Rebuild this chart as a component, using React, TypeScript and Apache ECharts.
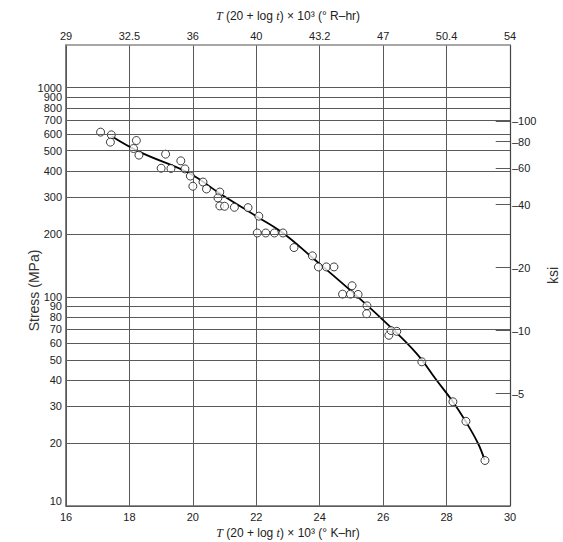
import React, { useEffect, useRef } from "react";
import * as echarts from "echarts";

// Larson–Miller parameter, T(20 + log t) × 10^3 in K·hr
const lmpK = [
  17.09, 17.43, 17.4, 18.22, 18.13, 18.3, 19.14, 19.0, 19.31, 19.62, 19.75,
  19.92, 20.0, 20.32, 20.43, 20.85, 20.79, 20.85, 21.0, 21.31, 21.74, 22.08,
  22.03, 22.3, 22.57, 22.84, 23.19, 23.77, 23.96, 24.21, 24.45, 25.02, 24.72,
  24.97, 25.21, 25.49, 25.48, 26.18, 26.25, 26.43, 27.22, 28.2, 28.61, 29.21,
];
// Rupture stress, MPa
const stressMPa = [
  613, 595, 549, 559, 512, 476, 481, 412, 411, 447, 409, 378, 338, 354, 328,
  317, 297, 272, 271, 268, 267, 243, 202, 202, 202, 202, 172, 157, 139, 139,
  139, 113, 103, 103, 102.7, 90.6, 83, 65.5, 69, 68.4, 48.9, 31.5, 25.4, 16.5,
];

// Master curve through the data
const fitX = [17.44, 18.32, 19.9, 20.85, 22.0, 22.84, 23.79, 24.95, 26.0, 27.05, 27.68, 28.2, 28.6, 28.99, 29.2];
const fitY = [586, 493, 389, 312, 243, 202, 153, 108, 77.4, 53.7, 40.0, 31.5, 25.4, 19.95, 16.6];

// Stress grid values (MPa) and the ksi scale on the right
const stressGrid = [10, 20, 30, 40, 50, 60, 70, 80, 90, 100, 200, 300, 400, 500, 600, 700, 800, 900, 1000];
const ksiTicks = [5, 10, 20, 40, 60, 80, 100];
const MPA_PER_KSI = 6.895;

// Rankine-hour equivalents of the Kelvin-hour ticks 16..30
const topLabels = ["29", "32.5", "36", "40", "43.2", "47", "50.4", "54"];

const FONT = "'Liberation Sans', Arial, sans-serif";
const TEXT = "#222";
const GRID = "#5a5a5a";

export default function App() {
  const ref = useRef<HTMLDivElement>(null);

  useEffect(() => {
    if (!ref.current) return;
    const chart = echarts.init(ref.current, undefined, { renderer: "svg" });

    const points = lmpK.map((x, i) => [x, stressMPa[i]]);
    const curve = fitX.map((x, i) => [x, fitY[i]]);

    const gridLines = stressGrid.map((v, i) => ({
      yAxis: v,
      label: {
        show: true,
        position: "start",
        distance: 4,
        offset: i === 0 ? [0, -5] : [0, 0],
        formatter: String(v),
        color: TEXT,
        fontSize: 11,
        fontFamily: FONT,
      },
    }));

    const ksiLines = ksiTicks.map((k) => [
      { coord: [29.55, k * MPA_PER_KSI] },
      {
        coord: [30, k * MPA_PER_KSI],
        label: {
          show: true,
          position: "end",
          distance: 2,
          formatter: "–" + k,
          color: TEXT,
          fontSize: 11,
          fontFamily: FONT,
        },
      },
    ]);

    const nameRich = {
      it: { fontStyle: "italic", fontFamily: "'Liberation Serif', 'Times New Roman', serif", fontSize: 12, color: TEXT },
    };

    chart.setOption({
      animation: false,
      backgroundColor: "#fff",
      textStyle: { fontFamily: FONT },
      grid: { left: 66, right: 53, top: 45, bottom: 36, containLabel: false, outerBoundsMode: "none" },
      xAxis: [
        {
          type: "value",
          position: "bottom",
          min: 16,
          max: 30,
          interval: 2,
          axisLine: { show: true, lineStyle: { color: "#6a6a6a", width: 1.5 } },
          axisTick: { show: false },
          axisLabel: { color: TEXT, fontSize: 11, fontFamily: FONT, margin: 5 },
          splitLine: { show: true, lineStyle: { color: GRID, width: 1 } },
          name: "{it|T} (20 + log {it|t}) × 10³ (° K–hr)",
          nameLocation: "middle",
          nameGap: 21,
          nameTextStyle: { color: TEXT, fontSize: 12, fontFamily: FONT, rich: nameRich },
        },
        {
          type: "value",
          position: "top",
          min: 16,
          max: 30,
          interval: 2,
          axisLine: { show: true, lineStyle: { color: "#8a8a8a", width: 1.5 } },
          axisTick: { show: false },
          axisLabel: {
            color: TEXT,
            fontSize: 11,
            fontFamily: FONT,
            margin: 4,
            formatter: (v: number) => topLabels[Math.round((v - 16) / 2)] ?? "",
          },
          splitLine: { show: false },
          name: "{it|T} (20 + log {it|t}) × 10³ (° R–hr)",
          nameLocation: "middle",
          nameGap: 23,
          nameTextStyle: { color: TEXT, fontSize: 12, fontFamily: FONT, rich: nameRich },
        },
      ],
      yAxis: [
        {
          type: "log",
          position: "left",
          min: 9.999,
          max: 1600,
          axisLine: { show: true, lineStyle: { color: "#555", width: 1.5 } },
          axisTick: { show: false },
          axisLabel: { show: false },
          splitLine: { show: false },
          name: "Stress (MPa)",
          nameLocation: "middle",
          nameGap: 25,
          nameRotate: 90,
          nameTextStyle: { color: "#333", fontSize: 14, fontFamily: FONT, padding: [0, 30, 0, 0] },
        },
        {
          type: "log",
          position: "right",
          min: 9.999,
          max: 1600,
          axisLine: { show: true, lineStyle: { color: "#444", width: 1.2 } },
          axisTick: { show: false },
          axisLabel: { show: false },
          splitLine: { show: false },
          name: "ksi",
          nameLocation: "middle",
          nameGap: 36,
          nameRotate: 90,
          nameTextStyle: { color: "#333", fontSize: 14, fontFamily: FONT },
        },
      ],
      series: [
        {
          name: "grid",
          type: "line",
          data: [],
          z: 1,
          silent: true,
          markLine: {
            silent: true,
            symbol: ["none", "none"],
            animation: false,
            lineStyle: { color: GRID, width: 1, type: "solid" },
            data: [...gridLines, ...ksiLines],
          },
        },
        {
          name: "fit",
          type: "line",
          data: curve,
          smooth: 0.4,
          showSymbol: false,
          z: 2,
          lineStyle: { color: "#000", width: 1.8 },
        },
        {
          name: "tests",
          type: "scatter",
          data: points,
          symbol: "circle",
          symbolSize: 8,
          z: 3,
          itemStyle: { color: "#fff", borderColor: "#111", borderWidth: 1 },
        },
      ],
    });

    return () => chart.dispose();
  }, []);

  return (
    <div
      ref={ref}
      style={{ position: "fixed", left: 0, top: 0, width: 563, height: 542, background: "#fff" }}
    />
  );
}
